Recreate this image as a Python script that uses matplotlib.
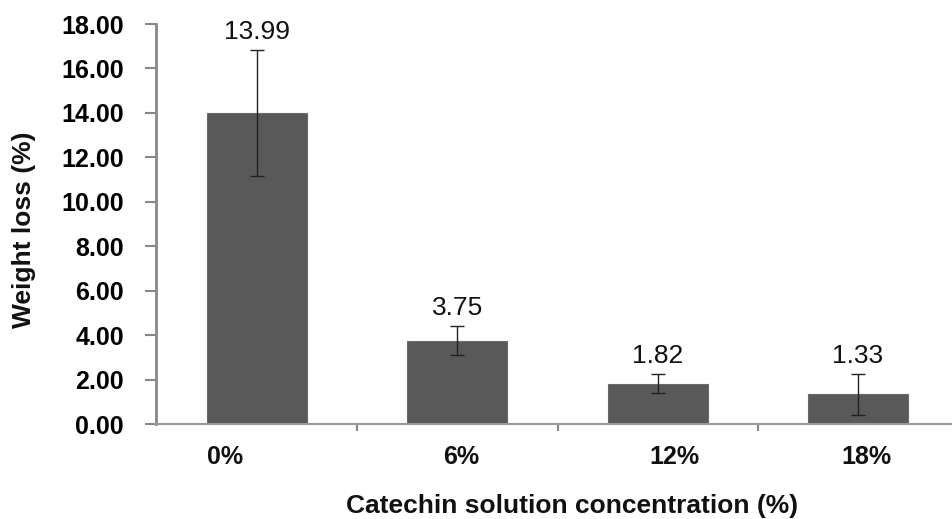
import matplotlib
matplotlib.use("Agg")
import matplotlib.pyplot as plt
import numpy as np

categories = ["0%", "6%", "12%", "18%"]
values = [13.99, 3.75, 1.82, 1.33]
errors = [2.85, 0.65, 0.44, 0.92]
yticks = [0, 2, 4, 6, 8, 10, 12, 14, 16, 18]

plt.rcParams['font.family'] = ['Liberation Sans', 'DejaVu Sans']

fig = plt.figure(figsize=(9.52, 5.19), dpi=100)
ax = fig.add_axes([156/952, 1 - 424/519, 1 - 156/952, 400/519])

x = np.arange(len(categories))
ax.bar(x, values, width=0.5, color="#595959", edgecolor="#6a6a6a", linewidth=0.8, zorder=2)
ax.errorbar(x, values, yerr=errors, fmt="none", ecolor="#222222", elinewidth=1.0,
            capsize=5, capthick=1.0, zorder=3)

for xi, v, e in zip(x, values, errors):
    ax.annotate(f"{v:.2f}", (xi, v + e), xytext=(0, 8), textcoords="offset points",
                ha="center", va="baseline", fontsize=19,
                fontweight="normal", color="#111111")

ax.set_xlim(-0.505, 3.47)
ax.set_ylim(0, 18)
ax.set_yticks(yticks)
ax.set_yticklabels([f"{t:.2f}" for t in yticks], fontsize=18, fontweight="bold")
ax.set_xticks([0.5, 1.5, 2.5])
ax.set_xticklabels([])
ax.tick_params(axis="y", direction="out", length=8, width=1.5, color="#888888", pad=15)
ax.tick_params(axis="x", direction="out", length=5, width=1.5, color="#888888")

for s in ["top", "right"]:
    ax.spines[s].set_visible(False)
ax.spines["left"].set_color("#888888")
ax.spines["left"].set_linewidth(2)
ax.spines["bottom"].set_color("#999999")
ax.spines["bottom"].set_linewidth(1.5)

label_offsets = [-0.16, 0.02, 0.085, 0.045]
for xi, lab, off in zip(x, categories, label_offsets):
    ax.text(xi + off, -1.5, lab, ha="center", va="center", fontsize=18,
            fontweight="bold", color="#111111", clip_on=False)

fig.text(572/952, 1 - 506/519, "Catechin solution concentration (%)", ha="center",
         va="center", fontsize=19, fontweight="bold", color="#111111")
fig.text(24/952, 1 - 230/519, "Weight loss (%)", ha="center", va="center",
         rotation=90, fontsize=19, fontweight="bold", color="#111111")

fig.savefig("out.png", dpi=100)
